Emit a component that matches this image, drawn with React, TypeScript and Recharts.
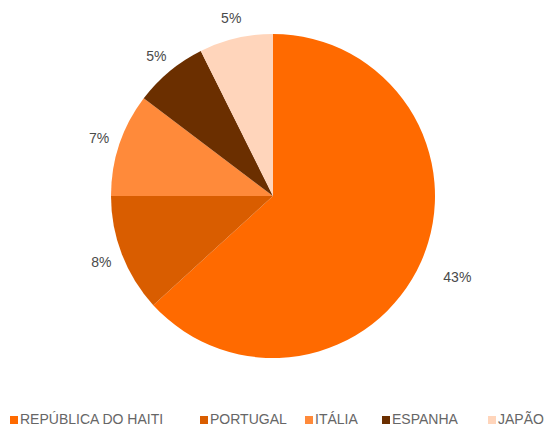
import { PieChart, Pie, Cell, Legend } from "recharts";

const countries = ["REPÚBLICA DO HAITI", "PORTUGAL", "ITÁLIA", "ESPANHA", "JAPÃO"];
const shares = [43, 8, 7, 5, 5];
const colors = ["#FF6A00", "#D95D00", "#FF8A3A", "#6B2F00", "#FFD5BB"];

const data = countries.map((name, i) => ({ name, value: shares[i] }));

const RADIAN = Math.PI / 180;

function renderLabel(props: any) {
  const { cx, cy, midAngle, outerRadius, value } = props;
  // bigger slices push their label a bit further out, like the original
  const r = outerRadius + 18 + value * 0.5;
  const x = cx + r * Math.cos(-midAngle * RADIAN);
  const y = cy + r * Math.sin(-midAngle * RADIAN);
  return (
    <text
      x={x}
      y={y}
      fill="#4a4a4a"
      fontSize={14}
      textAnchor="middle"
      dominantBaseline="central"
    >
      {value}%
    </text>
  );
}

// legend items spaced like the original
function renderLegend() {
  const xs = [10, 200, 305, 382, 488];
  return (
    <div style={{ position: "relative", height: 20, width: 547 }}>
      {countries.map((name, i) => (
        <div
          key={name}
          style={{
            position: "absolute",
            left: xs[i],
            top: 0,
            height: 20,
            lineHeight: "20px",
            paddingLeft: 10,
            fontSize: 14,
            color: "#666",
            whiteSpace: "nowrap",
          }}
        >
          <span
            style={{
              position: "absolute",
              left: 0,
              top: 7,
              width: 8,
              height: 8,
              background: colors[i],
            }}
          />
          {name}
        </div>
      ))}
    </div>
  );
}

export default function App() {
  return (
    <div
      style={{
        position: "absolute",
        left: 0,
        top: 0,
        width: 547,
        height: 426,
        background: "#fff",
        fontFamily: "'Liberation Sans', Arial, sans-serif",
      }}
    >
      <PieChart width={547} height={426} margin={{ top: 0, right: 0, bottom: 0, left: 0 }}>
        <Pie
          data={data}
          dataKey="value"
          nameKey="name"
          cx={273}
          cy={196}
          outerRadius={162}
          startAngle={90}
          endAngle={-270}
          stroke="none"
          label={renderLabel}
          labelLine={false}
          isAnimationActive={false}
        >
          {data.map((d, i) => (
            <Cell key={d.name} fill={colors[i]} />
          ))}
        </Pie>
        <Legend
          content={renderLegend}
          wrapperStyle={{ left: 0, top: 409, width: 547 }}
        />
      </PieChart>
    </div>
  );
}
